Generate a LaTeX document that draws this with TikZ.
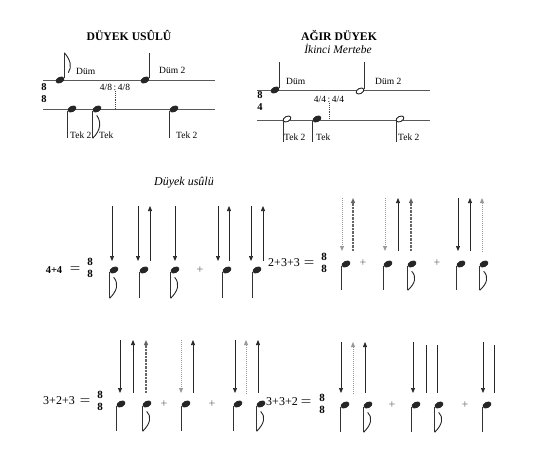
\documentclass[tikz,border=0pt]{standalone}
\usepackage{fontspec}
\setmainfont{Liberation Serif}
\usepackage{tikz}
\usetikzlibrary{arrows.meta,positioning,calc,shapes.geometric}

\begin{document}
\begin{tikzpicture}[
    x=1pt, y=-1pt,
    >={Triangle[length=5pt,width=4pt]},
    staff/.style={draw=black!65, line width=0.8pt},
    head/.style={ellipse, fill=black!85, inner sep=0pt, minimum width=9.4pt, minimum height=6.2pt, rotate=28},
    openhead/.style={ellipse, draw=black!85, fill=white, line width=0.9pt, inner sep=0pt, minimum width=8.4pt, minimum height=5.2pt, rotate=28},
    stem/.style={draw=black!80, line width=0.7pt},
    flag/.style={draw=black!85, line width=0.9pt},
    dotline/.style={draw=black!75, densely dotted, line width=0.8pt},
    ttl/.style={font=\bfseries\fontsize{11.7}{13}\selectfont},
    lbl/.style={font=\fontsize{9.5}{11}\selectfont, inner sep=1pt},
    tsig/.style={font=\bfseries\fontsize{10.5}{11.5}\selectfont, align=center, inner sep=0pt},
    fracsig/.style={font=\bfseries\fontsize{11}{12}\selectfont, align=center, inner sep=0pt},
    meter/.style={font=\fontsize{12}{13}\selectfont, inner sep=0pt},
    eqsign/.style={font=\boldmath\fontsize{13}{13}\selectfont, inner sep=0pt},
    plus/.style={font=\fontsize{12}{12}\selectfont, text=black!60, inner sep=0pt},
    arrdn/.style={draw=black!85, line width=0.7pt, ->},
    arrup/.style={draw=black!85, line width=0.7pt, <-},
    arrdnf/.style={draw=black!40, densely dotted, line width=1pt, ->},
    arrupf/.style={draw=black!40, densely dotted, line width=1pt, <-},
    arrupx/.style={draw=black!60, dash pattern=on 1pt off 0.4pt, line width=1.3pt, <-},
    plainbar/.style={draw=black!85, line width=0.7pt}
]
\useasboundingbox (0,0) rectangle (555,455);

% duyek usulu
\node[ttl] (ttlA) at (129,35) {DÜYEK USÛLÛ};
\draw[staff] (43,80) -- (215,80);
\draw[staff] (43,109) -- (215,109);
\node[tsig] (sigA) at (44,93) {8\\8};
\node[head] (dumA1) at (60,80) {};
\draw[stem] (dumA1.east) -- ++(0,-25);
\draw[flag] ($(dumA1.east)+(0,-25)$) .. controls ($(dumA1.east)+(6,-18)$) and ($(dumA1.east)+(8,-11)$) .. ($(dumA1.east)+(4,-5)$);
\node[lbl, anchor=west] (dumA1l) at (75,71) {Düm};
\node[head] (dumA2) at (145,80) {};
\draw[stem] (dumA2.east) -- ++(0,-25);
\node[lbl, anchor=west] (dumA2l) at (158,70) {Düm 2};
\node[lbl] (ratioA) at (115,87) {4/8\,:\,4/8};
\draw[dotline] (ratioA.south) -- ++(0,17);
\node[head] (tekA1) at (72,109) {};
\draw[stem] (tekA1.west) -- ++(0,27);
\node[lbl, anchor=west] (tekA1l) at (69,135) {Tek 2};
\node[head] (tekA2) at (97,109) {};
\draw[stem] (tekA2.west) -- ++(0,27);
\draw[flag] ($(tekA2.west)+(0,27)$) .. controls ($(tekA2.west)+(8,19)$) and ($(tekA2.west)+(9,11)$) .. ($(tekA2.west)+(4,4)$);
\node[lbl, anchor=west] (tekA2l) at (98,135) {Tek};
\node[head] (tekA3) at (174,109) {};
\draw[stem] (tekA3.west) -- ++(0,27);
\node[lbl, anchor=west] (tekA3l) at (175,135) {Tek 2};

% agir duyek
\node[ttl] (ttlB) at (339,35) {AĞIR DÜYEK};
\node[font=\itshape\fontsize{11.5}{13}\selectfont] (subB) at (338,49) {İkinci Mertebe};
\draw[staff] (257,90) -- (430,90);
\draw[staff] (257,120) -- (430,120);
\node[tsig] (sigB) at (260,101) {8\\4};
\node[head] (dumB1) at (275,90) {};
\draw[stem] (dumB1.east) -- ++(0,-26);
\node[lbl, anchor=west] (dumB1l) at (285,81) {Düm};
\node[openhead] (dumB2) at (360,91) {};
\draw[stem] (dumB2.east) -- ++(0,-27);
\node[lbl, anchor=west] (dumB2l) at (374,81) {Düm 2};
\node[lbl] (ratioB) at (329,99) {4/4\,:\,4/4};
\draw[dotline] (ratioB.south) -- ++(0,16);
\node[openhead] (tekB1) at (287,119) {};
\draw[stem] (tekB1.west) -- ++(0,21);
\node[lbl, anchor=west] (tekB1l) at (283,137) {Tek 2};
\node[head] (tekB2) at (317,119) {};
\draw[stem] (tekB2.west) -- ++(0,21);
\node[lbl, anchor=west] (tekB2l) at (315,137) {Tek};
\node[openhead] (tekB3) at (400,119) {};
\draw[stem] (tekB3.west) -- ++(0,21);
\node[lbl, anchor=west] (tekB3l) at (397,137) {Tek 2};

\node[font=\itshape\fontsize{12}{13}\selectfont] (usul) at (184,183) {Düyek usûlü};

% 4+4
\node[meter, font=\bfseries\fontsize{10.5}{12}\selectfont] (mA) at (54,270) {4+4};
\node[eqsign] (eqA) at (75,269) {$=$};
\node[fracsig] (frA) at (90,268) {8\\8};
\foreach \n/\x/\f in {a/114/1, b/144/0, c/175/1, d/227/0, e/257/0} {
  \node[head] (ra\n) at (\x,270) {};
  \draw[stem] (ra\n.west) -- ++(0,26);
  \ifnum\f=1 \draw[flag] ($(ra\n.west)+(0,26)$) .. controls ($(ra\n.west)+(8,18)$) and ($(ra\n.west)+(9,11)$) .. ($(ra\n.west)+(4,5)$);\fi
}
\foreach \x/\s in {112/arrdn, 138/arrdn, 150/arrup, 175/arrdn, 218/arrdn, 229/arrup, 251/arrdn, 263/arrup}
  \draw[\s] (\x,206) -- (\x,261);
\node[plus] (pA) at (200,270) {+};

% 2+3+3
\node[meter] (mB) at (284,263) {2+3+3};
\node[eqsign] (eqB) at (309,263) {$=$};
\node[fracsig] (frB) at (324,263) {8\\8};
\foreach \n/\x/\f in {a/346/0, b/388/0, c/412/1, d/461/0, e/484/1} {
  \node[head] (rb\n) at (\x,264) {};
  \draw[stem] (rb\n.west) -- ++(0,24);
  \ifnum\f=1 \draw[flag] ($(rb\n.west)+(0,24)$) .. controls ($(rb\n.west)+(8,17)$) and ($(rb\n.west)+(9,10)$) .. ($(rb\n.west)+(4,5)$);\fi
}
\foreach \x/\s in {342/arrdnf, 353/arrupx, 385/arrdnf, 398/arrup, 411/arrupx, 458/arrdn, 470/arrup, 482/arrupf}
  \draw[\s] (\x,198) -- (\x,251);
\node[plus] (pB1) at (363,263) {+};
\node[plus] (pB2) at (437,263) {+};

% 3+2+3
\node[meter] (mC) at (59,401) {3+2+3};
\node[eqsign] (eqC) at (85,401) {$=$};
\node[fracsig] (frC) at (100,401) {8\\8};
\foreach \n/\x/\f in {a/121/0, b/147/1, c/186/0, d/238/0, e/261/1} {
  \node[head] (rc\n) at (\x,404) {};
  \draw[stem] (rc\n.west) -- ++(0,25);
  \ifnum\f=1 \draw[flag] ($(rc\n.west)+(0,25)$) .. controls ($(rc\n.west)+(8,17)$) and ($(rc\n.west)+(9,10)$) .. ($(rc\n.west)+(4,5)$);\fi
}
\foreach \x/\s in {120/arrdn, 133/arrup, 146/arrupx, 181/arrdnf, 193/arrup, 235/arrdn, 246/arrupf, 258/arrup}
  \draw[\s] (\x,340) -- (\x,393);
\node[plus] (pC1) at (164,404) {+};
\node[plus] (pC2) at (212,404) {+};

% 3+3+2
\node[meter] (mD) at (282,402) {3+3+2};
\node[eqsign] (eqD) at (306,402) {$=$};
\node[fracsig] (frD) at (322,404) {8\\8};
\foreach \n/\x/\f in {a/345/0, b/368/1, c/416/0, d/439/1, e/487/0} {
  \node[head] (rd\n) at (\x,405) {};
  \draw[stem] (rd\n.west) -- ++(0,25);
  \ifnum\f=1 \draw[flag] ($(rd\n.west)+(0,25)$) .. controls ($(rd\n.west)+(8,17)$) and ($(rd\n.west)+(9,10)$) .. ($(rd\n.west)+(4,5)$);\fi
}
\foreach \x/\s in {341/arrdn, 353/arrupf, 365/arrup, 413/arrdn, 483/arrdn}
  \draw[\s] (\x,342) -- (\x,393);
\foreach \x in {426, 437, 494}
  \draw[plainbar] (\x,345) -- (\x,393);
\node[plus] (pD1) at (392,405) {+};
\node[plus] (pD2) at (465,405) {+};
\end{tikzpicture}
\end{document}
